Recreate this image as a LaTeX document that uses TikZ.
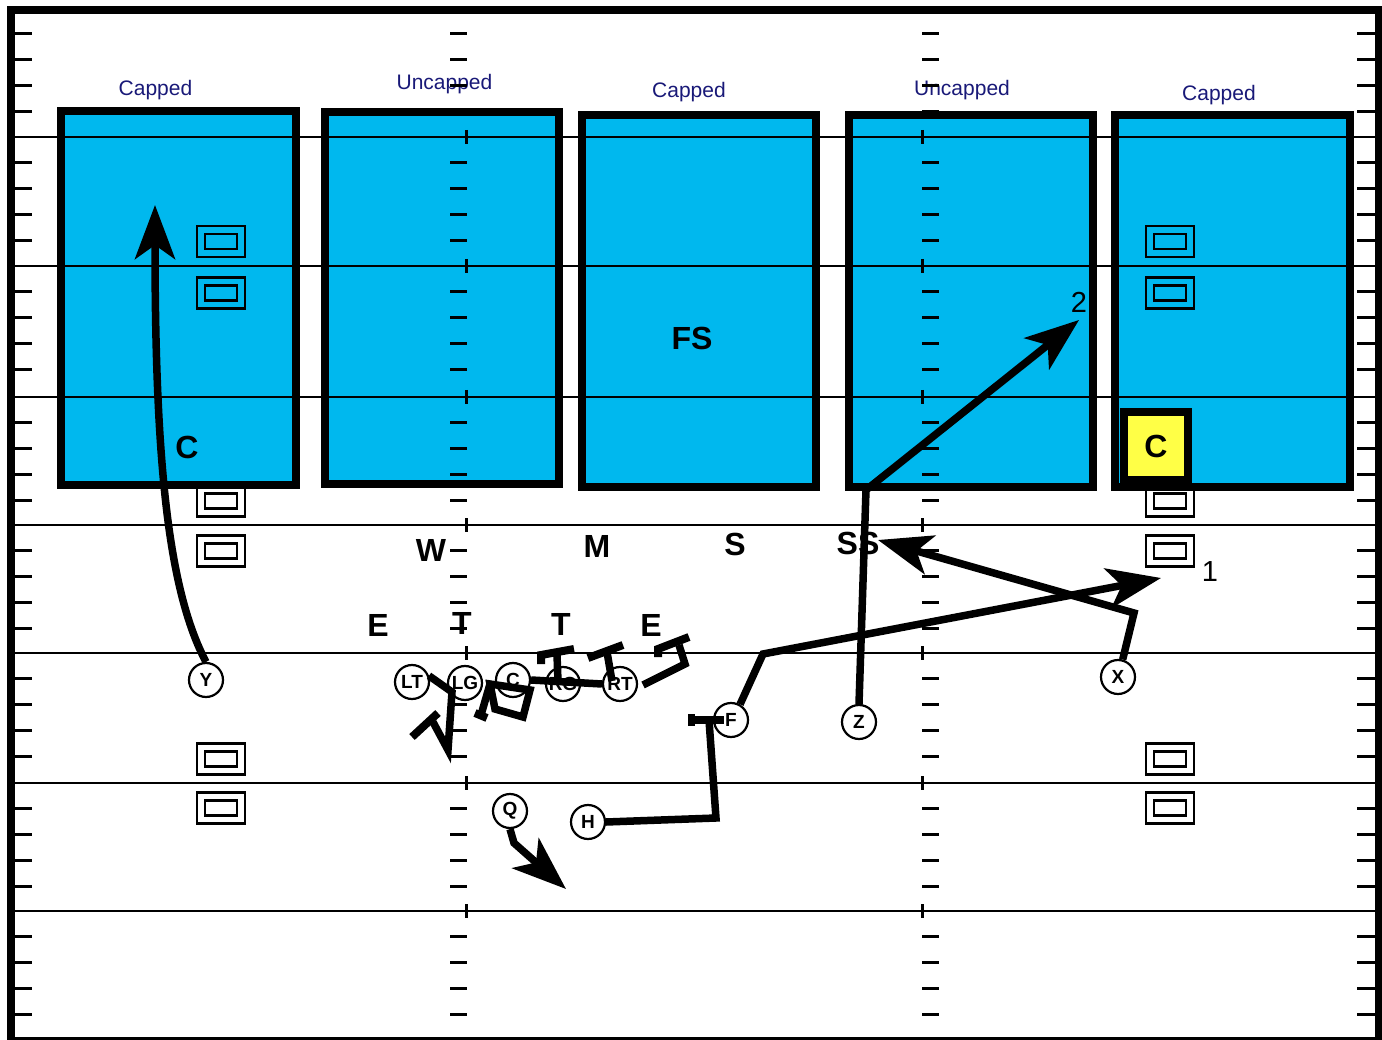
\documentclass[tikz,border=0pt]{standalone}
\usepackage{fontspec}
\setmainfont{Liberation Sans}
\usetikzlibrary{arrows.meta}
\definecolor{zoneblue}{RGB}{0,184,238}
\definecolor{capnavy}{RGB}{25,25,120}
\definecolor{cyel}{RGB}{255,255,70}
\begin{document}
\begin{tikzpicture}[x=1pt,y=-1pt,
  zone/.style={draw=black,line width=8pt,fill=zoneblue},
  zlabel/.style={text=capnavy,font=\fontsize{21}{21}\selectfont,inner sep=0,anchor=base},
  dlabel/.style={font=\bfseries\fontsize{32}{32}\selectfont,inner sep=0},
  numlabel/.style={font=\fontsize{29}{29}\selectfont,inner sep=0},
  player/.style={circle,draw,line width=2.2pt,fill=white,minimum size=34pt,inner sep=0,font=\bfseries\fontsize{19}{19}\selectfont},
  route/.style={line width=7.5pt,line join=miter},
  arr/.style={route,-{Stealth[length=54pt,width=40pt,inset=14pt]}},
  blockbar/.style={line width=8pt},
  yard/.style={line width=2.5pt},
  tickm/.style={line width=3pt},
  dblrect/.style={line width=2.5pt}]
\useasboundingbox (0,0) rectangle (1382,1040);
\fill[white] (0,0) rectangle (1382,1040);
% zones
\draw[zone] (61,111) rectangle (296,485);
\draw[zone] (325,112) rectangle (559,484);
\draw[zone] (582,115) rectangle (816,487);
\draw[zone] (849,115) rectangle (1093,487);
\draw[zone] (1115,115) rectangle (1350,487);
% zone labels
\node[zlabel] (l1) at (155.5,95.5) {Capped};
\node[zlabel] (l2) at (444.5,89.5) {Uncapped};
\node[zlabel] (l3) at (689,97.5) {Capped};
\node[zlabel] (l4) at (962,95.5) {Uncapped};
\node[zlabel] (l5) at (1219,100.5) {Capped};
% field markings
\foreach \yl in {137,266,397,525,653,783,911} {
  \draw[yard] (15,\yl) -- (1375,\yl);
  \draw[tickm] (466,\yl-7) -- (466,\yl+7);
  \draw[tickm] (922,\yl-7) -- (922,\yl+7);
}
\foreach \base in {8,137,266,397,525,653,783,911} {
  \foreach \k in {1,2,3,4} {
    \pgfmathsetmacro{\yy}{\base+25.8*\k}
    \draw[tickm] (15,\yy) -- (32,\yy);
    \draw[tickm] (450,\yy) -- (467,\yy);
    \draw[tickm] (922,\yy) -- (939,\yy);
    \draw[tickm] (1357,\yy) -- (1375,\yy);
  }
}
% frame
\draw[line width=7.5pt] (11,10) rectangle (1378.5,1041);
% double rectangles
\foreach \xx in {221,1170} {
  \foreach \yy in {241.5,293,501,551,759,808} {
    \draw[dblrect] (\xx-24,\yy-15.5) rectangle (\xx+24,\yy+15.5);
    \draw[dblrect] (\xx-16,\yy-7.5) rectangle (\xx+16,\yy+7.5);
  }
}
% yellow C
\node[draw,line width=8pt,fill=cyel,minimum width=64pt,minimum height=68pt,inner sep=0,font=\bfseries\fontsize{32}{32}\selectfont] (cy) at (1156,446) {C};
% labels
\node[dlabel] (cl) at (187,447) {C};
\node[dlabel] (fs) at (692,338) {FS};
\node[dlabel] (w) at (431,550) {W};
\node[dlabel] (m) at (597,546) {M};
\node[dlabel] (s) at (735,544) {S};
\node[dlabel] (ss) at (858,543) {SS};
\node[dlabel] (e1) at (378,625) {E};
\node[dlabel] (t1) at (462,623) {T};
\node[dlabel] (t2) at (561,624) {T};
\node[dlabel] (e2) at (651,625) {E};
\node[numlabel] (n2) at (1079,302) {2};
\node[numlabel] (n1) at (1210,572) {1};
% players
\node[player] (Y) at (206,680) {Y};
\node[player] (LT) at (412,682) {LT};
\node[player] (LG) at (465,683) {LG};
\node[player] (C) at (513,680) {C};
\node[player] (RG) at (563,684) {RG};
\node[player] (RT) at (620,684) {RT};
\node[player] (F) at (731,720) {F};
\node[player] (Z) at (859,722) {Z};
\node[player] (X) at (1118,677) {X};
\node[player] (Q) at (510,811) {Q};
\node[player] (H) at (588,822) {H};
% route end coordinates
\coordinate (ytip) at (155,205);
\coordinate (zturn) at (866,490);
\coordinate (ztip) at (1079,320);
\coordinate (xturn) at (1134,613);
\coordinate (xtip) at (878,540);
\coordinate (fturn) at (763,654);
\coordinate (ftip) at (1161,578);
\coordinate (qturn) at (514,843);
\coordinate (qtip) at (566,889);
\coordinate (hturn) at (716,818);
\coordinate (hend) at (709,720);
% routes
\draw[arr] (Y.north) .. controls (168,590) and (155,460) .. (ytip);
\draw[arr] (Z.north) -- (zturn) -- (ztip);
\draw[arr] (X.75) -- (xturn) -- (xtip);
\draw[arr] (F.60) -- (fturn) -- (ftip);
\draw[arr] (Q.south) -- (qturn) -- (qtip);
\draw[route] (H.east) -- (hturn) -- (hend);
\draw[blockbar] (689,720) -- (724,720);
\fill (688,714) rectangle (695,726);
% line blocks
\coordinate (lt1) at (452,692);
\coordinate (lt2) at (448,750);
\coordinate (lt3) at (433,722);
\draw[route] (LT.20) -- (lt1) -- (lt2) -- (lt3);
\draw[blockbar] (412,737) -- (438,713);
\coordinate (c1) at (490,684);
\coordinate (c2) at (530,690);
\coordinate (c3) at (523,717);
\coordinate (c4) at (495,709);
\coordinate (c5) at (481,715);
\draw[route] (c1) -- (c2) -- (c3) -- (c4) -- cycle;
\draw[route] (c1) -- (c5);
\draw[blockbar] (475,713) -- (487,718);
\draw[route] (C.east) -- (RT.west);
\draw[route] (558,681) -- (557,655);
\draw[blockbar] (541,664) -- (541,655) -- (574,649);
\draw[route] (612,681) -- (607,652);
\draw[blockbar] (588,658) -- (623,645);
\draw[route] (643,685) -- (685,664) -- (679,645);
\draw[blockbar] (658,657) -- (658,649) -- (689,637);
\end{tikzpicture}
\end{document}
